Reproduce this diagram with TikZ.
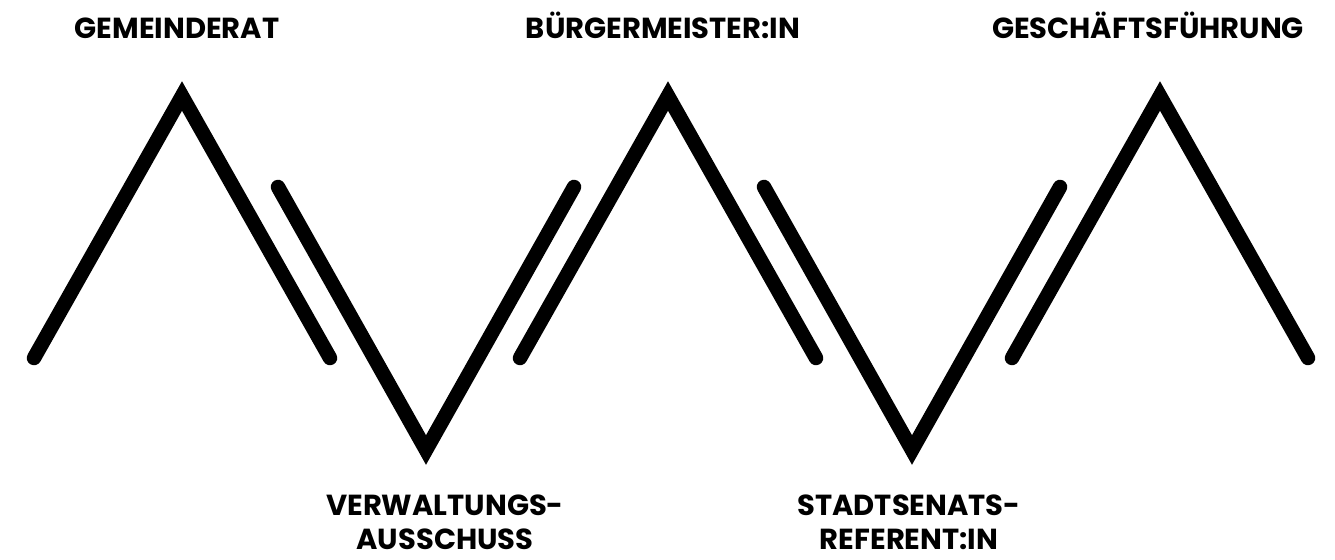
\documentclass[tikz,border=0pt]{standalone}
\usepackage{fontspec}
\setmainfont{Poppins}
\usepackage{tikz}

\begin{document}
\begin{tikzpicture}[
    stroke/.style={line width=0.29cm, line cap=round, line join=miter, miter limit=4},
    lbl/.style={font=\bfseries\fontsize{16.5}{19}\selectfont, inner sep=0pt, align=center}
]
\useasboundingbox (0,0) rectangle (26.7,11.2);

% Peaks
\draw[stroke] (0.68,4.04) -- (3.64,9.28) -- (6.6,4.04);
\draw[stroke] (10.4,4.04) -- (13.36,9.28) -- (16.32,4.04);
\draw[stroke] (20.24,4.04) -- (23.2,9.28) -- (26.16,4.04);

% Valleys
\draw[stroke] (5.56,7.46) -- (8.52,2.2) -- (11.48,7.46);
\draw[stroke] (15.28,7.46) -- (18.24,2.2) -- (21.2,7.46);

% Top labels
\node[lbl, anchor=base] (rat) at (3.54,10.42) {GEMEINDERAT};
\node[lbl, anchor=base] (bgm) at (13.26,10.42) {BÜRGERMEISTER:IN};
\node[lbl, anchor=base] (gf) at (22.96,10.42) {GESCHÄFTSFÜHRUNG};

% Bottom labels
\node[lbl, anchor=north] (va) at (8.9,1.3) {VERWALTUNGS-\\AUSSCHUSS};
\node[lbl, anchor=north] (ssr) at (18.18,1.3) {STADTSENATS-\\REFERENT:IN};
\end{tikzpicture}
\end{document}
